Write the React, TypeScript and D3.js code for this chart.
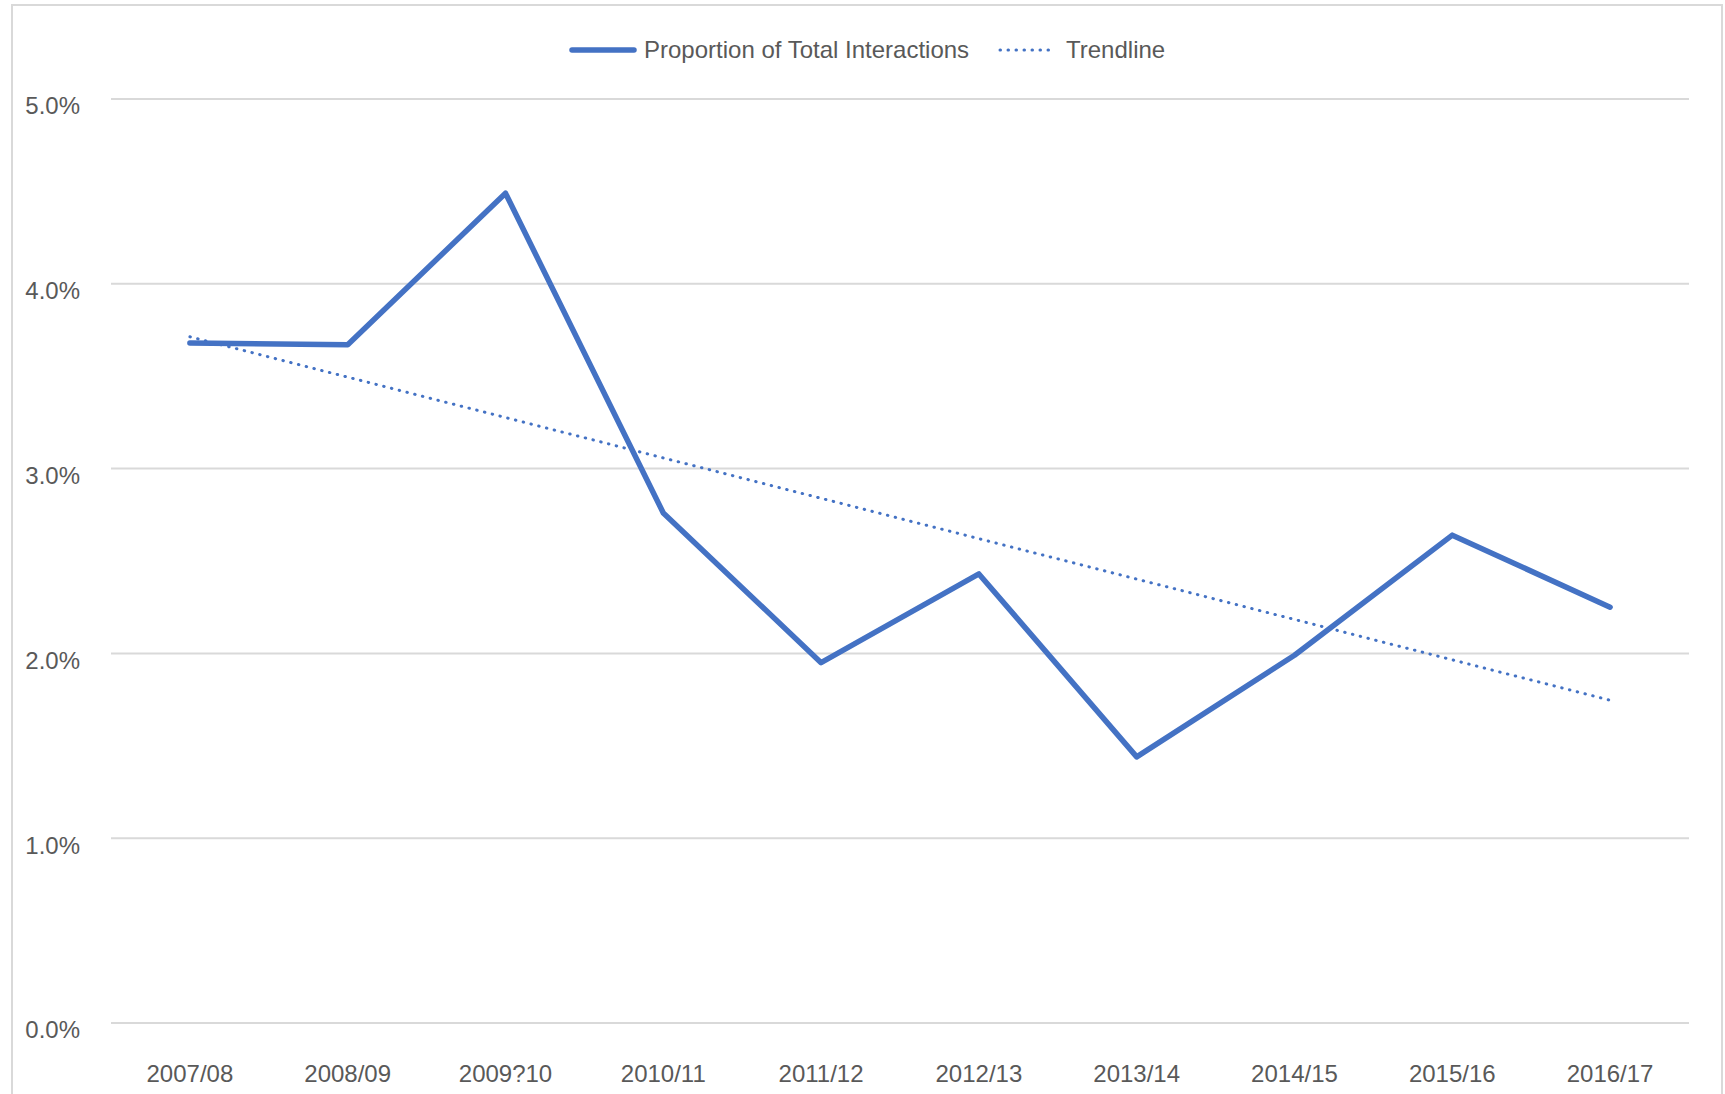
import React, { useEffect, useRef } from 'react';
import * as d3 from 'd3';

const periods = [
  '2007/08', '2008/09', '2009?10', '2010/11', '2011/12',
  '2012/13', '2013/14', '2014/15', '2015/16', '2016/17',
];
const proportion = [3.68, 3.67, 4.49, 2.76, 1.95, 2.43, 1.44, 1.99, 2.64, 2.25];
const yTicks = [0, 1, 2, 3, 4, 5];
const seriesName = 'Proportion of Total Interactions';
const trendName = 'Trendline';

const App = () => {
  const ref = useRef<SVGSVGElement>(null);
  const width = 1725;
  const height = 1094;
  const margin = { top: 99, right: 36, bottom: 71, left: 111 };
  const blue = '#4472C4';
  const textColor = '#595959';
  const font = '"Liberation Sans", Arial, sans-serif';

  useEffect(() => {
    const svg = d3.select(ref.current);
    svg.selectAll('*').remove();

    const x = d3
      .scalePoint()
      .domain(periods)
      .range([margin.left, width - margin.right])
      .padding(0.5);

    const y = d3
      .scaleLinear()
      .domain([0, 5])
      .range([height - margin.bottom, margin.top]);

    // chart border
    svg
      .append('rect')
      .attr('x', 12)
      .attr('y', 5)
      .attr('width', 1710)
      .attr('height', 1120)
      .attr('fill', 'white')
      .attr('stroke', '#d9d9d9')
      .attr('stroke-width', 2);

    // gridlines + y labels (labels sit a little below their line)
    yTicks.forEach((t) => {
      svg
        .append('line')
        .attr('x1', margin.left)
        .attr('x2', width - margin.right)
        .attr('y1', y(t))
        .attr('y2', y(t))
        .attr('stroke', '#d9d9d9')
        .attr('stroke-width', 2);
      svg
        .append('text')
        .attr('x', 80)
        .attr('y', y(t) + 7)
        .attr('dy', '0.35em')
        .attr('text-anchor', 'end')
        .attr('fill', textColor)
        .style('font-family', font)
        .style('font-size', '24px')
        .text(`${t.toFixed(1)}%`);
    });

    // x labels
    periods.forEach((p) => {
      svg
        .append('text')
        .attr('x', x(p)!)
        .attr('y', 1082)
        .attr('text-anchor', 'middle')
        .attr('fill', textColor)
        .style('font-family', font)
        .style('font-size', '24px')
        .text(p);
    });

    // linear trendline (least squares)
    const xs = proportion.map((_, i) => i);
    const mx = d3.mean(xs)!;
    const my = d3.mean(proportion)!;
    const slope =
      d3.sum(xs, (xi, i) => (xi - mx) * (proportion[i] - my)) /
      d3.sum(xs, (xi) => (xi - mx) ** 2);
    const trend = xs.map((xi) => my + slope * (xi - mx));

    const line = d3
      .line<number>()
      .x((d, i) => x(periods[i])!)
      .y((d) => y(d));

    svg
      .append('path')
      .datum(trend)
      .attr('fill', 'none')
      .attr('stroke', blue)
      .attr('stroke-width', 3)
      .attr('stroke-linecap', 'round')
      .attr('stroke-dasharray', '0.5 7.5')
      .attr('d', line);

    svg
      .append('path')
      .datum(proportion)
      .attr('fill', 'none')
      .attr('stroke', blue)
      .attr('stroke-width', 5.5)
      .attr('stroke-linejoin', 'round')
      .attr('stroke-linecap', 'round')
      .attr('d', line);

    // legend
    const legend = svg.append('g').attr('transform', 'translate(0, 50)');
    legend
      .append('line')
      .attr('x1', 572)
      .attr('x2', 634)
      .attr('stroke', blue)
      .attr('stroke-width', 5.5)
      .attr('stroke-linecap', 'round');
    legend
      .append('text')
      .attr('x', 644)
      .attr('dy', '0.35em')
      .attr('fill', textColor)
      .style('font-family', font)
      .style('font-size', '24px')
      .text(seriesName);
    legend
      .append('line')
      .attr('x1', 1000)
      .attr('x2', 1054)
      .attr('stroke', blue)
      .attr('stroke-width', 3)
      .attr('stroke-linecap', 'round')
      .attr('stroke-dasharray', '0.5 7.5');
    legend
      .append('text')
      .attr('x', 1066)
      .attr('dy', '0.35em')
      .attr('fill', textColor)
      .style('font-family', font)
      .style('font-size', '24px')
      .text(trendName);
  }, []);

  return (
    <div style={{ position: 'absolute', top: 0, left: 0 }}>
      <svg ref={ref} width={width} height={height} style={{ display: 'block' }} />
    </div>
  );
};

export default App;
